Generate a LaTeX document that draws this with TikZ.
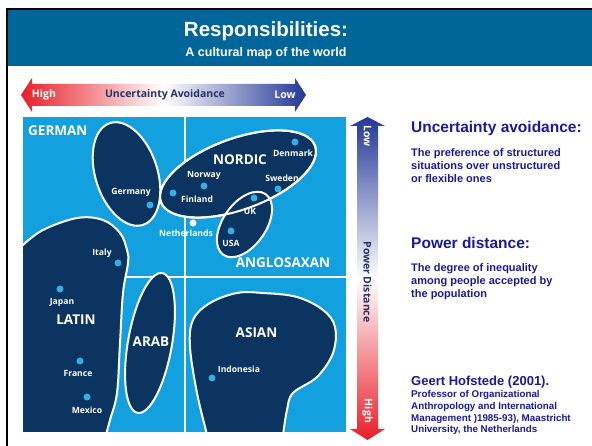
\documentclass[tikz,border=0pt]{standalone}
\usepackage{fontspec}
\setmainfont{Liberation Sans}
\newfontfamily\mapfont{Open Sans}
\usepackage{tikz}
\usetikzlibrary{positioning}
\definecolor{titlebar}{RGB}{0,102,153}
\definecolor{mapblue}{RGB}{18,160,222}
\definecolor{blobnavy}{RGB}{11,52,96}
\definecolor{textblue}{RGB}{25,25,160}
\definecolor{axisred}{RGB}{232,30,40}
\definecolor{axisblue}{RGB}{35,55,150}
\definecolor{axisnavy}{RGB}{40,50,100}
\tikzset{
blob/.style={fill=blobnavy, draw=white, line width=2pt},
group/.style={font=\mapfont\bfseries\fontsize{13.5}{14}\selectfont, text=white, inner sep=0pt},
country/.style={font=\mapfont\bfseries\fontsize{8.6}{9}\selectfont, text=white, inner sep=0pt},
city/.style={fill=mapblue!85!white},
axis label/.style={font=\mapfont\bfseries\fontsize{10.5}{11}\selectfont, inner sep=0pt},
head/.style={font=\bfseries\fontsize{15.5}{17}\selectfont, text=textblue, anchor=base west, inner sep=0pt},
body/.style={font=\bfseries\fontsize{11}{13.3}\selectfont, text=textblue, align=left, anchor=north west, inner sep=0pt}
}

\begin{document}
\begin{tikzpicture}[x=1pt, y=1pt]
  \useasboundingbox (0,0) rectangle (592,446);
  % title bar
  \fill[titlebar] (8,380) rectangle (592,436);
  \draw[line width=2.2pt] (7.2,0) -- (7.2,436.6) -- (592,436.6);
  \node[font=\bfseries\fontsize{20.5}{22}\selectfont, text=white, anchor=base] (title) at (266,409) {Responsibilities:};
  \node[font=\bfseries\fontsize{12.5}{14}\selectfont, text=white, anchor=base] (subtitle) at (266,389) {A cultural map of the world};

  % uncertainty avoidance arrow
  \shade[left color=axisred, right color=axisblue, middle color=white]
    (21,351) -- (32,368) -- (32,362) -- (295,362) -- (295,368) -- (306,351)
    -- (295,334) -- (295,340) -- (32,340) -- (32,334) -- cycle;
  \node[axis label, text=white] (uahigh) at (44,351) {High};
  \node[axis label, text=axisnavy] (ualabel) at (165,351) {Uncertainty Avoidance};
  \node[axis label, text=white] (ualow) at (285,351) {Low};

  % power distance arrow
  \shade[top color=axisblue, bottom color=axisred, middle color=white]
    (367.5,329) -- (385,320) -- (378,320) -- (378,17) -- (385,17) -- (367.5,6)
    -- (350,17) -- (357,17) -- (357,320) -- (350,320) -- cycle;
  \node[axis label, text=white, rotate=-90] (pdlow) at (367.5,310) {Low};
  \node[axis label, text=axisnavy, rotate=-90] (pdlabel) at (367.5,164) {Power Distance};
  \node[axis label, text=white, rotate=-90] (pdhigh) at (367.5,35) {High};

  % map
  \fill[mapblue] (23,14) rectangle (346,329);
  \draw[white, line width=1.2pt] (185,14) -- (185,329) (23,169) -- (346,169);
  \begin{scope}
    \clip (23,14) rectangle (346,329);
    \draw[blob] (10,201) -- plot[smooth, tension=0.6] coordinates {(23,201) (43,216) (77,228) (103,226) (120,213) (127,196) (128,183) (123,153) (120,103) (117,53) (110,26) (104,4)} -- (10,4) -- cycle;
    \draw[blob] plot[smooth, tension=0.6] coordinates {(208,4) (207,11) (197,53) (190,99) (193,126) (210,143) (237,153) (263,153) (297,149) (323,136) (335,119) (333,93) (317,69) (293,53) (287,36) (283,11) (282,4)} -- cycle;
  \end{scope}
  \draw[blob, shift={(126.5,272)}, rotate=18] (0,0) ellipse [x radius=31, y radius=53.5];
  \draw[blob, shift={(150,103)}, rotate=-10] (0,0) ellipse [x radius=22, y radius=71];
  \draw[blob, shift={(238,272)}, rotate=20] (0,0) ellipse [x radius=82, y radius=35.5];
  \draw[blob, shift={(244.5,221.5)}, rotate=55] (0,0) ellipse [x radius=37, y radius=21.5];
  \draw[white, line width=2pt, shift={(238,272)}, rotate=20] (0,0) ellipse [x radius=82, y radius=35.5];

  % group names
  \node[group, anchor=west] (german) at (28,315) {GERMAN};
  \node[group] (nordic) at (240,286) {NORDIC};
  \node[group] (anglosaxan) at (283,183) {ANGLOSAXAN};
  \node[group] (latin) at (76,126) {LATIN};
  \node[group] (arab) at (151,104) {ARAB};
  \node[group] (asian) at (256.5,113) {ASIAN};

  % countries
  \foreach \name/\dx/\dy/\lx/\ly in {Denmark/295/304/293/293, Norway/204/260/204/271,
    Sweden/278/257/282/268, Finland/173/253/197/247, UK/254/248/250/235,
    Germany/150/241/131/254, USA/231/215/231/203, Italy/118/183/102/193,
    Japan/60/157/62/144, France/80/85/78/73, Mexico/87/49/87/36, Indonesia/212/68/239/77}
  {
    \fill[city] (\dx,\dy) circle (3.5);
    \node[country] (\name) at (\lx,\ly) {\name};
  }
  \fill[white] (193,223) circle (3.5);
  \node[country] (netherlands) at (186,213) {Netherlands};

  % definitions
  \node[head] (uahead) at (411,313) {Uncertainty avoidance:};
  \node[body] (uabody) at (411,298) {The preference of structured\\situations over unstructured\\or flexible ones};
  \node[head] (pdhead) at (411,197) {Power distance:};
  \node[body] (pdbody) at (411,183) {The degree of inequality\\among people accepted by\\the population};
  \node[head, font=\bfseries\fontsize{13}{15}\selectfont] (source) at (411,60) {Geert Hofstede (2001).};
  \node[body, font=\bfseries\fontsize{9.8}{11.7}\selectfont] (sourcebody) at (411,55.5) {Professor of Organizational\\Anthropology and International\\Management )1985-93), Maastricht\\University, the Netherlands};
\end{tikzpicture}
\end{document}
